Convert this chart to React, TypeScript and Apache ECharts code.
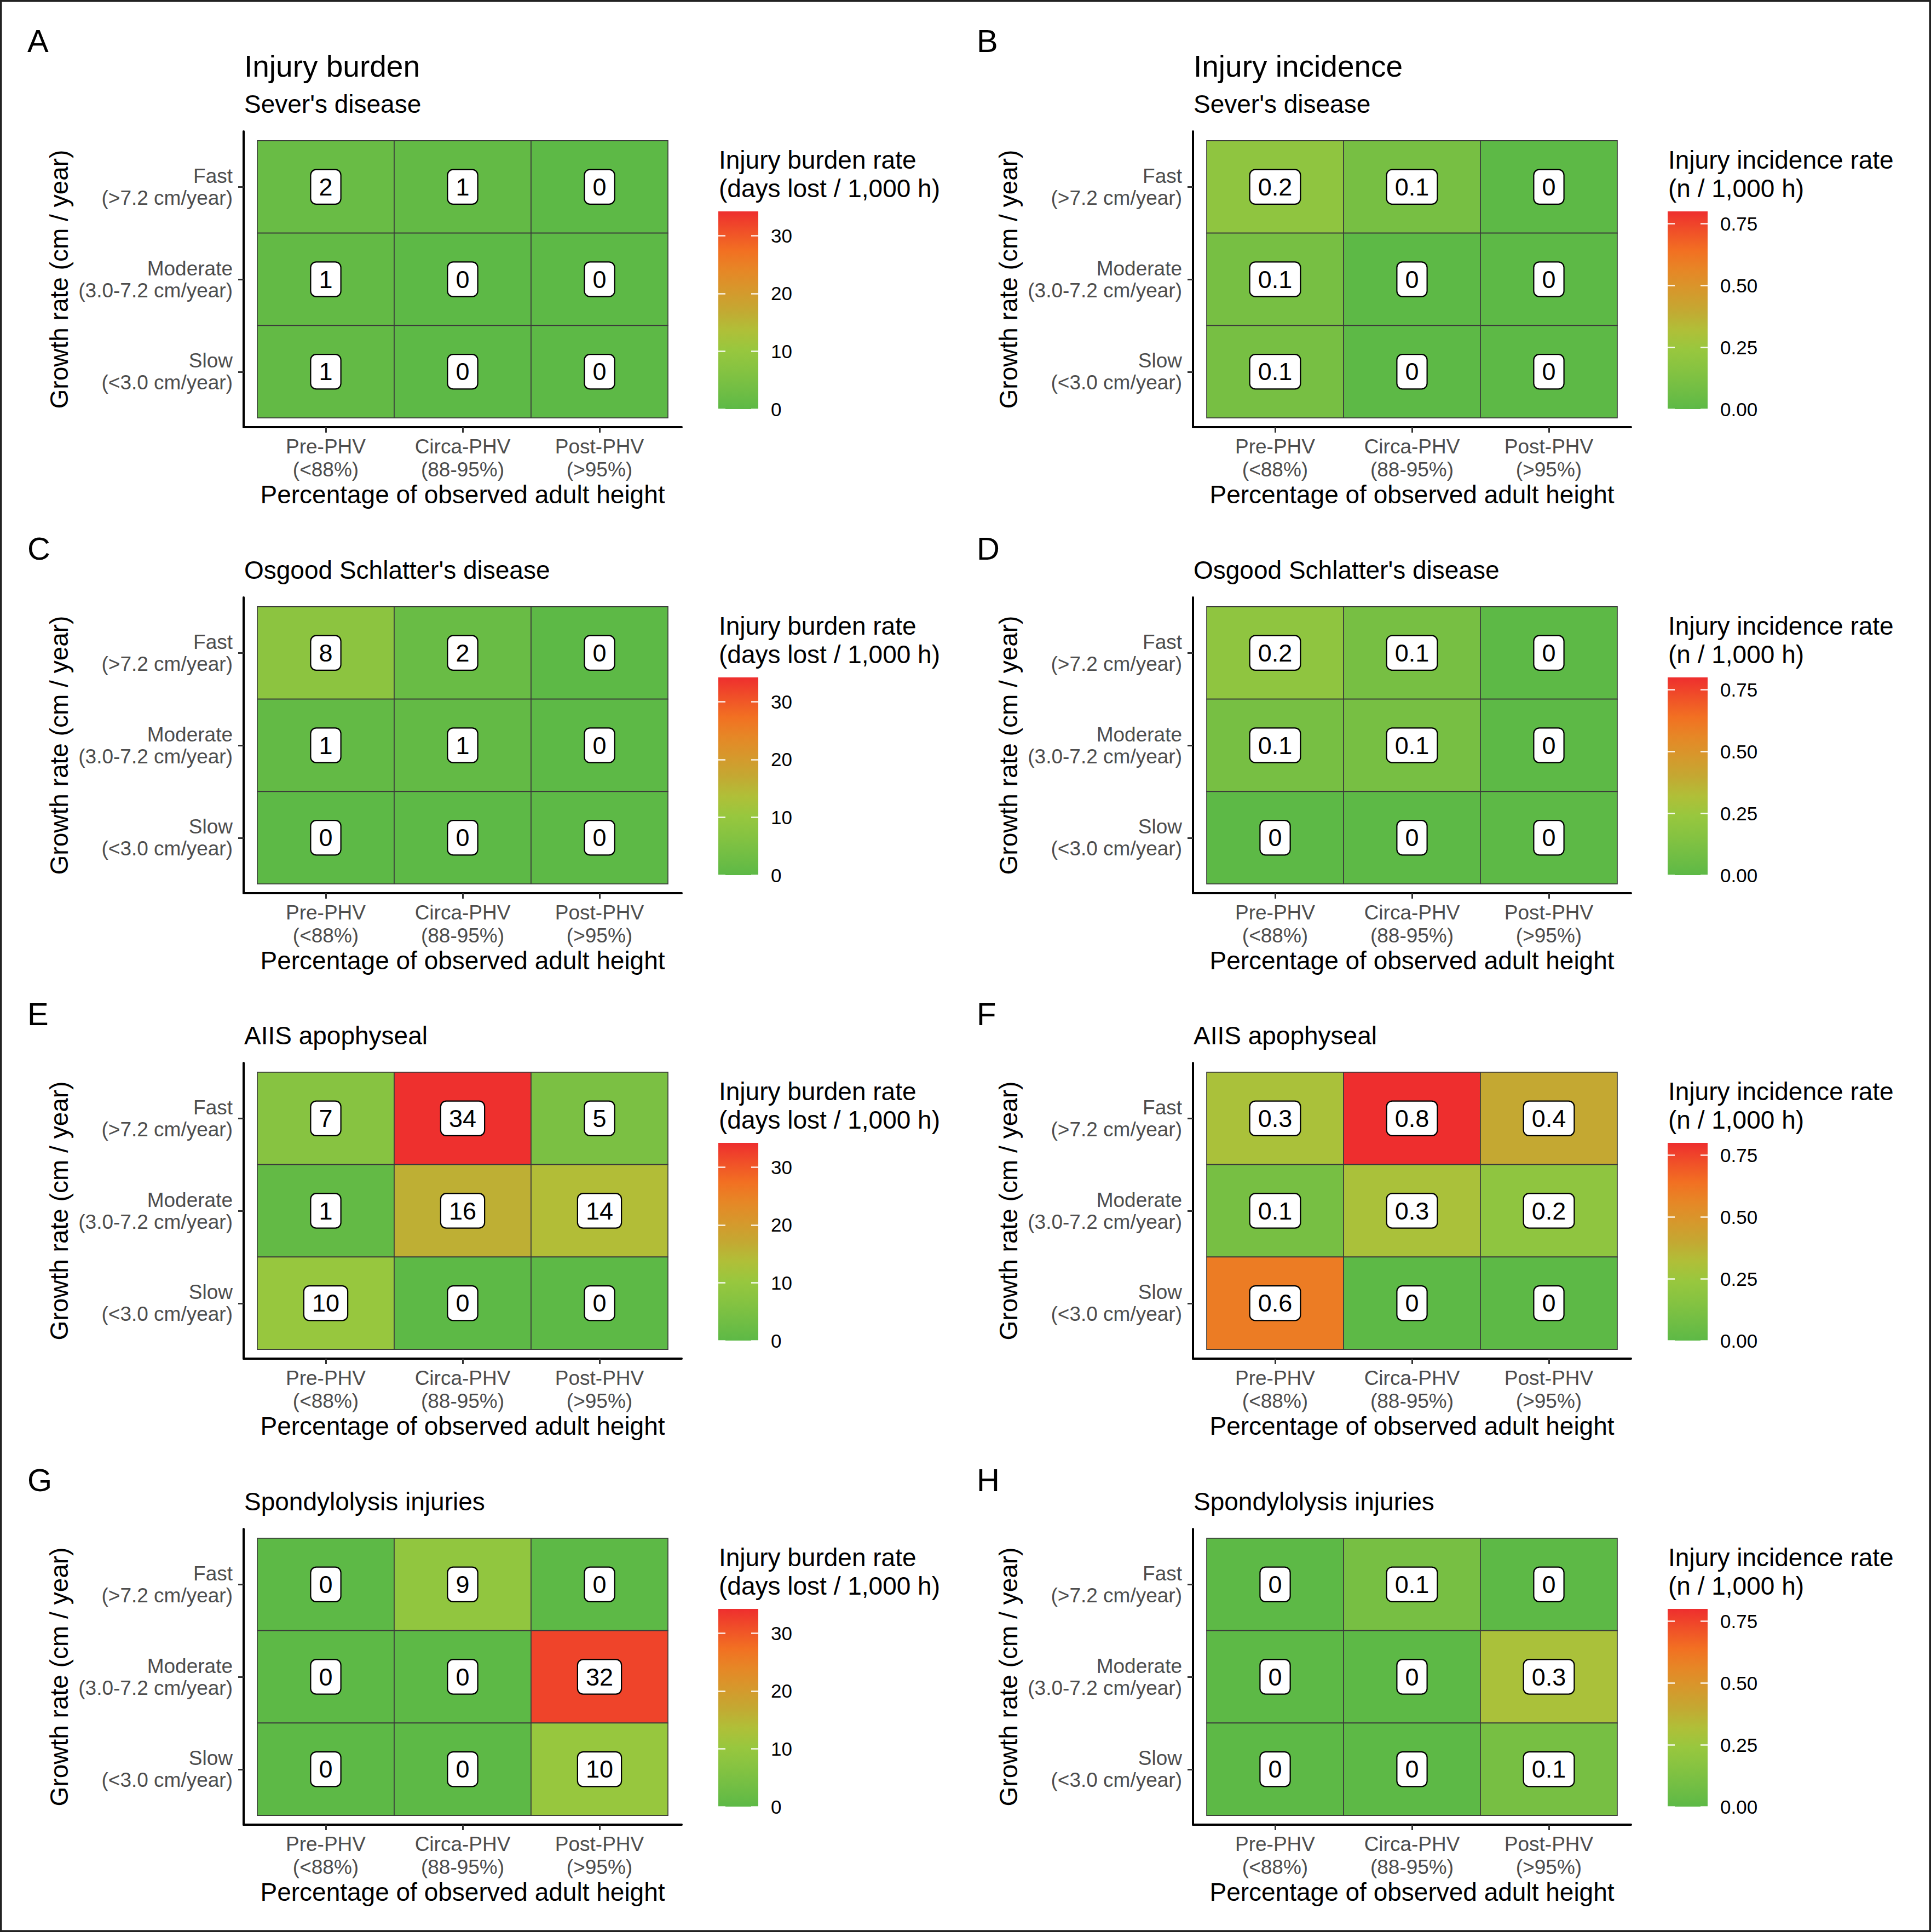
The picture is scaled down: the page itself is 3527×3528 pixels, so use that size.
import React, { useEffect, useRef } from 'react';
import * as echarts from 'echarts';

const W = 3527;
const H = 3528;
const FONT = '"Liberation Sans", Arial, Helvetica, sans-serif';

// ---- categories / ticks ----
const xCategories = ['Pre-PHV\n(<88%)', 'Circa-PHV\n(88-95%)', 'Post-PHV\n(>95%)'];
// bottom -> top (y = 1, 2, 3)
const yCategories = ['Slow\n(<3.0 cm/year)', 'Moderate\n(3.0-7.2 cm/year)', 'Fast\n(>7.2 cm/year)'];
const panelLetters = ['A', 'B', 'C', 'D', 'E', 'F', 'G', 'H'];
const injuryNames = ["Sever's disease", "Osgood Schlatter's disease", 'AIIS apophyseal', 'Spondylolysis injuries'];
const columnTitles = ['Injury burden', 'Injury incidence'];
const legendTitles = [
  ['Injury burden rate', '(days lost / 1,000 h)'],
  ['Injury incidence rate', '(n / 1,000 h)'],
];
const burdenTicks = [0, 10, 20, 30];
const incidenceTicks = [0, 0.25, 0.5, 0.75];
const burdenMax = 34.2;
const incidenceMax = 0.8;

// ---- values: rows Fast, Moderate, Slow; columns Pre, Circa, Post ----
const seversBurden = [[2, 1, 0], [1, 0, 0], [1, 0, 0]];
const seversIncidence = [[0.2, 0.1, 0], [0.1, 0, 0], [0.1, 0, 0]];
const osgoodBurden = [[8, 2, 0], [1, 1, 0], [0, 0, 0]];
const osgoodIncidence = [[0.2, 0.1, 0], [0.1, 0.1, 0], [0, 0, 0]];
const aiisBurden = [[7, 34, 5], [1, 16, 14], [10, 0, 0]];
const aiisIncidence = [[0.3, 0.8, 0.4], [0.1, 0.3, 0.2], [0.6, 0, 0]];
const spondyBurden = [[0, 9, 0], [0, 0, 32], [0, 0, 10]];
const spondyIncidence = [[0, 0.1, 0], [0, 0, 0.3], [0, 0, 0.1]];

const panelValues = [
  seversBurden, seversIncidence,
  osgoodBurden, osgoodIncidence,
  aiisBurden, aiisIncidence,
  spondyBurden, spondyIncidence,
];

const scaleColors = [
  '#5DB946', '#72BE44', '#86C341', '#98C73E', '#B0BF38', '#C4A832',
  '#D6982C', '#E68726', '#F27022', '#F05028', '#EE2E2E',
];

// ---- layout ----
const colX = [445, 2179];
const rowY = [240, 1091, 1941, 2792];
const GW = 800;
const GH = 540;

function buildOption() {
  const grids: any[] = [];
  const xAxes: any[] = [];
  const yAxes: any[] = [];
  const series: any[] = [];
  const visualMaps: any[] = [];
  const graphics: any[] = [];

  graphics.push({
    type: 'rect',
    shape: { x: 1.75, y: 1.75, width: W - 3.5, height: H - 3.5 },
    style: { fill: 'none', stroke: '#222', lineWidth: 3.5 },
    silent: true,
  });

  const txt = (text: string, x: number, y: number, size: number, align = 'left', extra: any = {}) => ({
    type: 'text',
    x,
    y,
    silent: true,
    ...extra,
    style: {
      text,
      font: `${size}px ${FONT}`,
      fill: '#000',
      align,
      verticalAlign: 'middle',
      textAlign: align,
      textVerticalAlign: 'middle',
    },
  });

  panelValues.forEach((vals, i) => {
    const col = i % 2;
    const row = Math.floor(i / 2);
    const gx = colX[col];
    const gy = rowY[row];
    const isBurden = col === 0;
    const maxV = isBurden ? burdenMax : incidenceMax;

    grids.push({ left: gx, top: gy, width: GW, height: GH });

    xAxes.push({
      type: 'value',
      gridIndex: i,
      min: 0.4,
      max: 3.6,
      axisLine: { show: true, onZero: false, lineStyle: { color: '#000', width: 4 } },
      axisTick: { show: true, customValues: [1, 2, 3], length: 10, lineStyle: { color: '#333', width: 3 } },
      axisLabel: {
        show: true,
        customValues: [1, 2, 3],
        formatter: (v: number) => xCategories[Math.round(v) - 1] ?? '',
        color: '#4D4D4D',
        fontSize: 37,
        fontFamily: FONT,
        lineHeight: 42,
        margin: 14,
      },
      splitLine: { show: false },
    });
    yAxes.push({
      type: 'value',
      gridIndex: i,
      min: 0.4,
      max: 3.6,
      axisLine: { show: true, onZero: false, lineStyle: { color: '#000', width: 4 } },
      axisTick: { show: true, customValues: [1, 2, 3], length: 10, lineStyle: { color: '#333', width: 3 } },
      axisLabel: {
        show: true,
        customValues: [1, 2, 3],
        formatter: (v: number) => yCategories[Math.round(v) - 1] ?? '',
        color: '#4D4D4D',
        fontSize: 37,
        fontFamily: FONT,
        lineHeight: 40,
        margin: 20,
        align: 'right',
      },
      splitLine: { show: false },
    });

    const data: any[] = [];
    vals.forEach((rowVals, r) => {
      rowVals.forEach((v, c) => {
        data.push([c + 1, 3 - r, v]);
      });
    });

    series.push({
      type: 'custom',
      xAxisIndex: i,
      yAxisIndex: i,
      silent: true,
      data,
      encode: { x: 0, y: 1 },
      renderItem: (params: any, api: any) => {
        const x = api.value(0);
        const y = api.value(1);
        const v = api.value(2);
        const p0 = api.coord([x - 0.5, y + 0.5]);
        const p1 = api.coord([x + 0.5, y - 0.5]);
        const c = api.coord([x, y]);
        return {
          type: 'group',
          children: [
            {
              type: 'rect',
              shape: { x: p0[0], y: p0[1], width: p1[0] - p0[0], height: p1[1] - p0[1] },
              style: { fill: api.visual('color'), stroke: '#3a3a3a', lineWidth: 1.6 },
            },
            {
              type: 'text',
              x: c[0],
              y: c[1],
              z2: 10,
              style: {
                text: String(v),
                fill: '#000',
                font: `45px ${FONT}`,
                align: 'center',
                verticalAlign: 'middle',
                lineHeight: 45,
                backgroundColor: '#fff',
                borderColor: '#000',
                borderWidth: 2.2,
                borderRadius: 9,
                padding: [8, 14, 8, 14],
              },
            },
          ],
        };
      },
    });

    visualMaps.push({
      type: 'continuous',
      show: false,
      seriesIndex: i,
      dimension: 2,
      min: 0,
      max: maxV,
      inRange: { color: scaleColors },
    });

    // texts
    graphics.push(txt(panelLetters[i], col === 0 ? 50 : 1784, row === 0 ? 74 : gy - 90, 58));
    if (row === 0) graphics.push(txt(columnTitles[col], gx + 1, 121, 55));
    graphics.push(txt(injuryNames[row], gx + 1, gy - 50, 46));
    graphics.push(txt(legendTitles[col][0], gx + 868, gy + 52, 46));
    graphics.push(txt(legendTitles[col][1], gx + 868, gy + 104, 46));
    graphics.push(txt('Percentage of observed adult height', gx + GW / 2, gy + GH + 123, 46, 'center'));
    graphics.push(txt('Growth rate (cm / year)', gx - 337, gy + GH / 2, 46, 'center', { rotation: Math.PI / 2 }));
  });

  // colour bars
  panelValues.forEach((_, i) => {
    const col = i % 2;
    const row = Math.floor(i / 2);
    const gx = colX[col];
    const gy = rowY[row];
    const isBurden = col === 0;
    const maxV = isBurden ? burdenMax : incidenceMax;
    const ticks = isBurden ? burdenTicks : incidenceTicks;
    const gi = 8 + i;
    grids.push({ left: gx + 867, top: gy + 146, width: 73, height: 361 });
    xAxes.push({ type: 'category', gridIndex: gi, data: ['scale'], show: false });
    const tickStyle = { show: true, inside: true, customValues: ticks, length: 13, lineStyle: { color: 'rgba(255,255,255,0.9)', width: 2.5 } };
    yAxes.push({
      type: 'value',
      gridIndex: gi,
      position: 'right',
      min: 0,
      max: maxV,
      z: 10,
      axisLine: { show: false },
      axisTick: tickStyle,
      axisLabel: {
        show: true,
        customValues: ticks,
        formatter: (v: number) => (isBurden ? String(v) : v.toFixed(2)),
        color: '#000',
        fontSize: 35,
        fontFamily: FONT,
        margin: 23,
      },
      splitLine: { show: false },
    });
    yAxes.push({
      type: 'value',
      gridIndex: gi,
      position: 'left',
      min: 0,
      max: maxV,
      z: 10,
      axisLine: { show: false },
      axisTick: tickStyle,
      axisLabel: { show: false },
      splitLine: { show: false },
    });
    series.push({
      type: 'bar',
      xAxisIndex: gi,
      yAxisIndex: 8 + 2 * i,
      silent: true,
      barWidth: '100%',
      data: [maxV],
      itemStyle: {
        color: new echarts.graphic.LinearGradient(
          0, 1, 0, 0,
          scaleColors.map((c, k) => ({ offset: k / (scaleColors.length - 1), color: c }))
        ),
      },
    });
  });

  return {
    animation: false,
    backgroundColor: '#fff',
    grid: grids,
    xAxis: xAxes,
    yAxis: yAxes,
    visualMap: visualMaps,
    series,
    graphic: { elements: graphics },
  };
}

export default function App() {
  const ref = useRef<HTMLDivElement>(null);
  useEffect(() => {
    document.body.style.margin = '0';
    if (!ref.current) return;
    const chart = echarts.init(ref.current, undefined, { renderer: 'svg', width: W, height: H });
    chart.setOption(buildOption() as any);
    return () => chart.dispose();
  }, []);
  return <div ref={ref} style={{ position: 'absolute', left: 0, top: 0, width: W, height: H, background: '#fff' }} />;
}
